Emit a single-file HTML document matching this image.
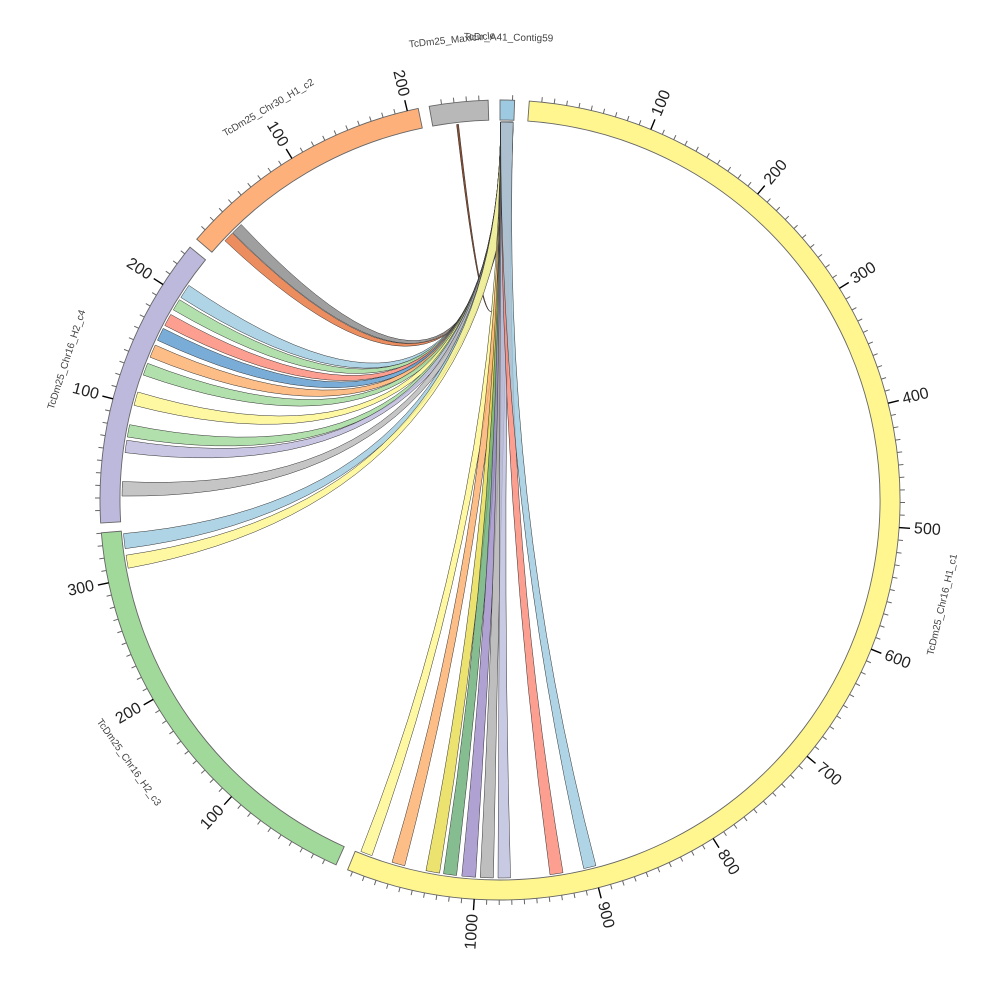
<!DOCTYPE html>
<html><head><meta charset="utf-8"><style>
html,body{margin:0;padding:0;background:#fff;}
svg{display:block;font-family:"Liberation Sans",sans-serif;}
</style></head><body>
<svg id="s" width="1000" height="1000" viewBox="0 0 1000 1000" xmlns="http://www.w3.org/2000/svg"></svg>
<script>
const C=500,R0=380,R1=400,RR=378,SC=0.1795;
const s=document.getElementById('s');
let h='';
function P(r,t){const a=t*Math.PI/180;return [C+r*Math.sin(a),C-r*Math.cos(a)];}
function f(p){return p[0].toFixed(2)+','+p[1].toFixed(2);}
const segs=[
 ['TcDr_A41_Contig59',0.0,2.1,'#9ecae1'],
 ['TcDm25_Chr16_H1_c1',4.2,202.4,'#fff68f'],
 ['TcDm25_Chr16_H2_c3',204.2,265.3,'#a1d99b'],
 ['TcDm25_Chr16_H2_c4',266.7,309.2,'#bcb9dc'],
 ['TcDm25_Chr30_H1_c2',310.7,348.2,'#fdb07a'],
 ['TcDm25_Maxicircle',349.8,358.3,'#b8b8b8']
];
function ribbon(a1,a2,b1,b2,col,op){
 let d='M'+f(P(RR,a1))+' A'+RR+','+RR+' 0 0,1 '+f(P(RR,a2))+' Q'+C+','+C+' '+f(P(RR,b1))+' A'+RR+','+RR+' 0 0,1 '+f(P(RR,b2))+' Q'+C+','+C+' '+f(P(RR,a1))+'Z';
 h+='<path d="'+d+'" fill="'+col+'" fill-opacity="'+(op||0.85)+'" stroke="#333" stroke-width="0.5"/>';
}
for(const [n,a,b,c] of segs){
 const big=(b-a>180)?1:0;
 h+='<path d="M'+f(P(R1,a))+' A'+R1+','+R1+' 0 '+big+',1 '+f(P(R1,b))+' L'+f(P(R0,b))+' A'+R0+','+R0+' 0 '+big+',0 '+f(P(R0,a))+'Z" fill="'+c+'" stroke="#666" stroke-width="0.9"/>';
 const len=(b-a)/SC;
 for(let u=10;u<=len;u+=10){
  const t=a+u*SC, maj=(u%100===0)&&(len-u>8);
  const p1=P(R1,t),p2=P(R1+(maj?11:5),t);
  h+='<line x1="'+p1[0].toFixed(2)+'" y1="'+p1[1].toFixed(2)+'" x2="'+p2[0].toFixed(2)+'" y2="'+p2[1].toFixed(2)+'" stroke="'+(maj?'#000':'#666')+'" stroke-width="'+(maj?1.4:1)+'"/>';
  if(maj){
   const p=P(R1+15,t);let rot,anc;
   if(t<=180){rot=t-90;anc='start';}else{rot=t-270;anc='end';}
   h+='<text x="'+p[0].toFixed(1)+'" y="'+p[1].toFixed(1)+'" font-size="16" fill="#222" text-anchor="'+anc+'" dominant-baseline="central" transform="rotate('+rot.toFixed(1)+' '+p[0].toFixed(1)+' '+p[1].toFixed(1)+')">'+u+'</text>';
  }
 }
 const m=(a+b)/2;let rot=(m>90&&m<270)?m-180:(m>=270?m-360:m);
 const rr=(n.indexOf('Contig')>=0||n.indexOf('Maxi')>=0)?462:455;
 const p=P(rr,m);
 h+='<text x="'+p[0].toFixed(1)+'" y="'+p[1].toFixed(1)+'" font-size="10" fill="#444" text-anchor="middle" dominant-baseline="central" transform="rotate('+rot.toFixed(1)+' '+p[0].toFixed(1)+' '+p[1].toFixed(1)+')">'+n+'</text>';
}
const rb=[
 [353.4,353.7,'#8b4a2b',1],
 [313.3,314.9,'#e6743c'],
 [315.0,316.8,'#8a8a8a'],
 [302.4,304.6,'#9ecae1'],
 [300.2,302.0,'#a1d99b'],
 [297.5,299.4,'#fb8a78'],
 [295.0,297.0,'#5b9bd0'],
 [292.2,294.2,'#fdae6b'],
 [289.3,291.2,'#a1d99b'],
 [284.5,286.6,'#fff68f'],
 [279.6,281.5,'#a1d99b'],
 [277.2,279.1,'#bcb9dc'],
 [270.6,272.8,'#b8b8b8'],
 [262.6,264.9,'#9ecae1'],
 [259.6,261.6,'#fff68f'],
 [199.8,201.6,'#fff68f'],
 [194.6,196.6,'#fdae6b'],
 [189.2,191.3,'#e8dc4f'],
 [186.6,188.6,'#6aaf78'],
 [183.7,185.8,'#9e8cc8'],
 [181.0,183.0,'#b0b0b0'],
 [178.4,180.3,'#bcbddc'],
 [170.4,172.4,'#fb8a78'],
 [165.3,167.2,'#9ecae1']
];
for(const r of rb){
 if(r[3]) ribbon(0.9,1.0,r[0],r[1],r[2],1);
 else ribbon(0.1,2.0,r[0],r[1],r[2],0.82);
}
s.innerHTML=h;
</script>
</body></html>
